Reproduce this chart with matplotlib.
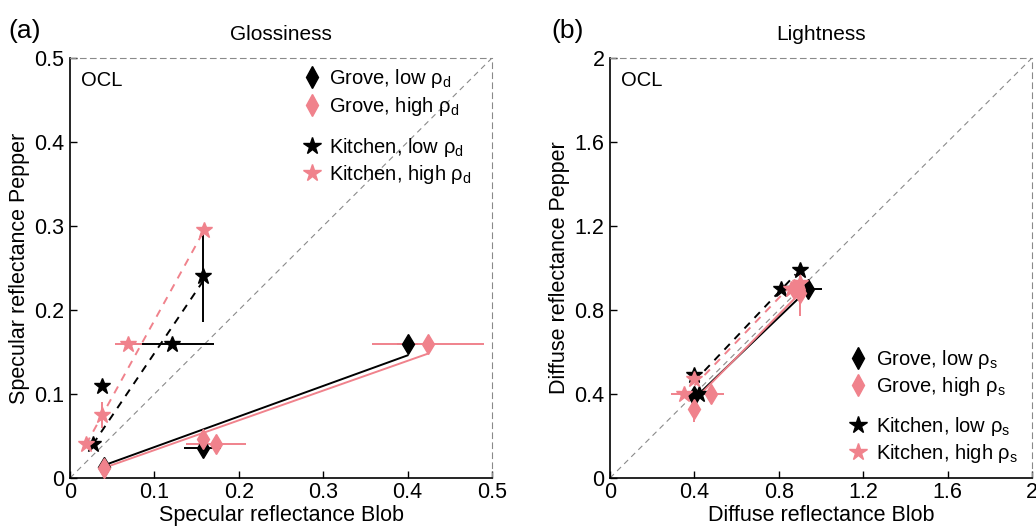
import matplotlib
matplotlib.use("Agg")
import matplotlib.pyplot as plt
from matplotlib.lines import Line2D

plt.rcParams['font.family'] = ['Liberation Sans', 'DejaVu Sans']
plt.rcParams['mathtext.fontset'] = 'custom'
plt.rcParams['mathtext.rm'] = 'Liberation Sans'
plt.rcParams['font.size'] = 14.5

PINK = '#F0828C'
GRAY = '#8a8a8a'

# ---- panel (a) glossiness: specular reflectance, blob (x) vs pepper (y)
grove_low_a_x = [0.040, 0.157, 0.400]
grove_low_a_y = [0.013, 0.036, 0.160]
grove_low_a_xerr = [0.0, 0.022, 0.012]
grove_low_a_yerr = [0.0, 0.0, 0.0]

grove_high_a_x = [0.040, 0.158, 0.173, 0.424]
grove_high_a_y = [0.012, 0.046, 0.040, 0.160]
grove_high_a_xerr = [0.0, 0.0, 0.035, 0.066]
grove_high_a_yerr = [0.0, 0.0, 0.0, 0.0]

kitchen_low_a_x = [0.027, 0.038, 0.121, 0.158]
kitchen_low_a_y = [0.040, 0.109, 0.160, 0.241]
kitchen_low_a_xerr = [0.0, 0.0, 0.050, 0.0]
kitchen_low_a_yerr = [0.0, 0.0, 0.0, 0.055]

kitchen_high_a_x = [0.019, 0.038, 0.069, 0.159]
kitchen_high_a_y = [0.040, 0.075, 0.160, 0.295]
kitchen_high_a_xerr = [0.0, 0.0, 0.016, 0.0]
kitchen_high_a_yerr = [0.0, 0.015, 0.0, 0.0]

# fitted lines (end points)
fit_grove_low_a = ([0.040, 0.400], [0.015, 0.146])
fit_grove_high_a = ([0.040, 0.424], [0.012, 0.148])
fit_kitchen_low_a = ([0.027, 0.158], [0.040, 0.235])
fit_kitchen_high_a = ([0.019, 0.159], [0.040, 0.295])

# ---- panel (b) lightness: diffuse reflectance
grove_low_b_x = [0.40, 0.94]
grove_low_b_y = [0.39, 0.90]
grove_low_b_xerr = [0.0, 0.065]
grove_low_b_yerr = [0.0, 0.0]

grove_high_b_x = [0.40, 0.48, 0.87, 0.90]
grove_high_b_y = [0.33, 0.40, 0.90, 0.88]
grove_high_b_xerr = [0.0, 0.06, 0.0, 0.0]
grove_high_b_yerr = [0.065, 0.0, 0.0, 0.11]

kitchen_low_b_x = [0.40, 0.42, 0.81, 0.90]
kitchen_low_b_y = [0.49, 0.40, 0.90, 0.99]
kitchen_low_b_xerr = [0.0, 0.03, 0.0, 0.0]
kitchen_low_b_yerr = [0.0, 0.0, 0.0, 0.0]

kitchen_high_b_x = [0.35, 0.40, 0.86, 0.90]
kitchen_high_b_y = [0.40, 0.47, 0.90, 0.93]
kitchen_high_b_xerr = [0.06, 0.0, 0.0, 0.0]
kitchen_high_b_yerr = [0.0, 0.0, 0.0, 0.0]

fit_grove_low_b = ([0.40, 0.94], [0.38, 0.90])
fit_grove_high_b = ([0.40, 0.90], [0.37, 0.88])
fit_kitchen_low_b = ([0.40, 0.88], [0.46, 0.97])
fit_kitchen_high_b = ([0.40, 0.87], [0.44, 0.93])

ticks_a = [0, 0.1, 0.2, 0.3, 0.4, 0.5]
ticklabels_a = ['0', '0.1', '0.2', '0.3', '0.4', '0.5']
ticks_b = [0, 0.4, 0.8, 1.2, 1.6, 2.0]
ticklabels_b = ['0', '0.4', '0.8', '1.2', '1.6', '2']


def style_axes(ax, lim, ticks, labels):
    ax.set_xlim(0, lim)
    ax.set_ylim(0, lim)
    ax.plot([0, lim], [0, lim], color=GRAY, lw=0.8, dashes=(5, 4), zorder=1)
    for s in ['top', 'right']:
        ax.spines[s].set_color(GRAY)
        ax.spines[s].set_linestyle((0, (5, 4)))
        ax.spines[s].set_linewidth(0.8)
    for s in ['left', 'bottom']:
        ax.spines[s].set_linewidth(1.2)
    ax.set_xticks(ticks)
    ax.set_xticklabels(labels)
    ax.set_yticks(ticks)
    ax.set_yticklabels(labels)
    ax.tick_params(direction='in', length=5, width=1, top=False, right=False, labelsize=15.5)
    ax.tick_params(axis='x', pad=3)
    ax.tick_params(axis='y', pad=4)
    ax.text(0.025, 0.968, 'OCL', transform=ax.transAxes, va='top', ha='left', fontsize=14.5)


def draw_series(ax, x, y, xerr, yerr, color, marker, ms):
    ax.errorbar(x, y, xerr=xerr, yerr=yerr, fmt='none', ecolor=color, elinewidth=1.4,
                capsize=0, zorder=2)
    ax.plot(x, y, linestyle='none', marker=marker, color=color, ms=ms,
            markeredgecolor=color, zorder=4)


def add_legend(ax, sub, x0, ytop1, ytop2):
    h1 = [Line2D([], [], ls='none', marker='d', color='black', ms=11),
          Line2D([], [], ls='none', marker='d', color=PINK, ms=11)]
    h2 = [Line2D([], [], ls='none', marker='*', color='black', ms=13),
          Line2D([], [], ls='none', marker='*', color=PINK, ms=13)]
    l1 = ['Grove, low ρ$_\\mathrm{' + sub + '}$', 'Grove, high ρ$_\\mathrm{' + sub + '}$']
    l2 = ['Kitchen, low ρ$_\\mathrm{' + sub + '}$', 'Kitchen, high ρ$_\\mathrm{' + sub + '}$']
    kw = dict(frameon=False, loc='upper left', borderpad=0, borderaxespad=0,
              handlelength=1.0, handletextpad=0.35, labelspacing=0.22, fontsize=14.5)
    leg1 = ax.legend(h1, l1, bbox_to_anchor=(x0, ytop1), **kw)
    ax.add_artist(leg1)
    ax.legend(h2, l2, bbox_to_anchor=(x0, ytop2), **kw)


fig = plt.figure(figsize=(10.36, 5.29), dpi=100)
ax1 = fig.add_axes([0.0676, 0.0964, 0.4073, 0.794])
ax2 = fig.add_axes([0.5888, 0.0964, 0.4073, 0.794])

# (a)
style_axes(ax1, 0.5, ticks_a, ticklabels_a)
ax1.plot(*fit_grove_low_a, color='black', lw=1.4, zorder=3)
ax1.plot(*fit_grove_high_a, color=PINK, lw=1.4, zorder=3)
ax1.plot(*fit_kitchen_low_a, color='black', lw=1.4, dashes=(4, 3.5), zorder=3)
ax1.plot(*fit_kitchen_high_a, color=PINK, lw=1.4, dashes=(4, 3.5), zorder=3)
draw_series(ax1, grove_low_a_x, grove_low_a_y, grove_low_a_xerr, grove_low_a_yerr, 'black', 'd', 10)
draw_series(ax1, kitchen_low_a_x, kitchen_low_a_y, kitchen_low_a_xerr, kitchen_low_a_yerr, 'black', '*', 12)
draw_series(ax1, grove_high_a_x, grove_high_a_y, grove_high_a_xerr, grove_high_a_yerr, PINK, 'd', 10)
draw_series(ax1, kitchen_high_a_x, kitchen_high_a_y, kitchen_high_a_xerr, kitchen_high_a_yerr, PINK, '*', 12)
ax1.set_xlabel('Specular reflectance Blob', labelpad=1, fontsize=15.5)
ax1.set_ylabel('Specular reflectance Pepper', labelpad=3, fontsize=15.5)
ax1.set_title('Glossiness', fontsize=15, pad=13)
add_legend(ax1, 'd', 0.55, 0.978, 0.815)

# (b)
style_axes(ax2, 2.0, ticks_b, ticklabels_b)
ax2.plot(*fit_grove_low_b, color='black', lw=1.4, zorder=3)
ax2.plot(*fit_grove_high_b, color=PINK, lw=1.4, zorder=3)
ax2.plot(*fit_kitchen_low_b, color='black', lw=1.4, dashes=(4, 3.5), zorder=3)
ax2.plot(*fit_kitchen_high_b, color=PINK, lw=1.4, dashes=(4, 3.5), zorder=3)
draw_series(ax2, grove_low_b_x, grove_low_b_y, grove_low_b_xerr, grove_low_b_yerr, 'black', 'd', 10)
draw_series(ax2, kitchen_low_b_x, kitchen_low_b_y, kitchen_low_b_xerr, kitchen_low_b_yerr, 'black', '*', 12)
draw_series(ax2, grove_high_b_x, grove_high_b_y, grove_high_b_xerr, grove_high_b_yerr, PINK, 'd', 10)
draw_series(ax2, kitchen_high_b_x, kitchen_high_b_y, kitchen_high_b_xerr, kitchen_high_b_yerr, PINK, '*', 12)
ax2.set_xlabel('Diffuse reflectance Blob', labelpad=1, fontsize=15.5)
ax2.set_ylabel('Diffuse reflectance Pepper', labelpad=3, fontsize=15.5)
ax2.set_title('Lightness', fontsize=15, pad=13)
add_legend(ax2, 's', 0.565, 0.31, 0.15)

fig.text(0.008, 0.965, '(a)', fontsize=19, va='top')
fig.text(0.532, 0.965, '(b)', fontsize=19, va='top')

fig.savefig('out.png', dpi=100)
